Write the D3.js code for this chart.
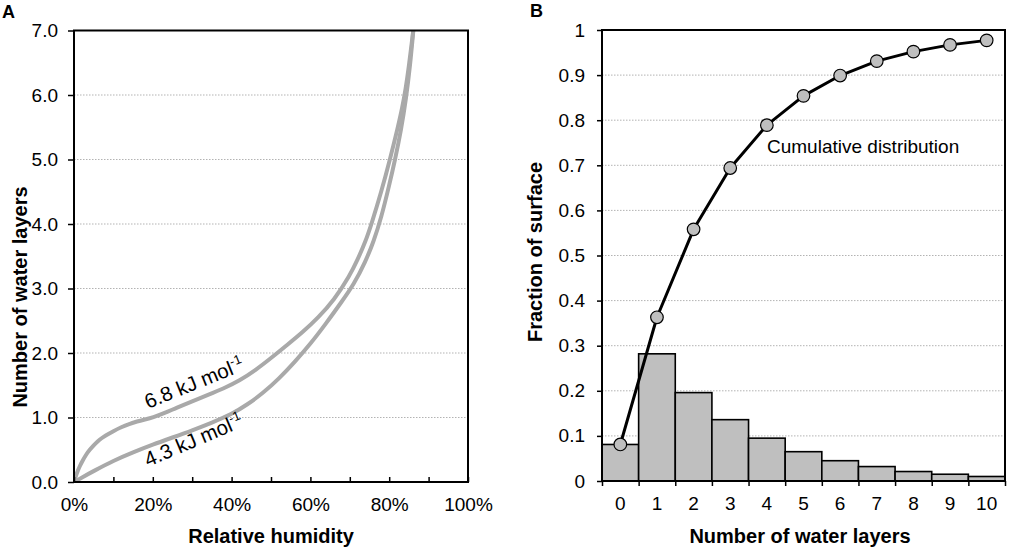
<!DOCTYPE html>
<html>
<head>
<meta charset="utf-8">
<script src="https://cdn.jsdelivr.net/npm/d3@7"></script>
<style>
body { margin: 0; background: #fff; }
svg { display: block; font-family: "Liberation Sans", Arial, sans-serif; }
.tick text { font-size: 19px; fill: #000; }
.tick line { stroke: #000; stroke-width: 1.5; }
.grid line { stroke: #b3b3b3; stroke-width: 1; stroke-dasharray: 1.5,1.5; }
.title { font-size: 20px; font-weight: bold; }
</style>
</head>
<body>
<svg id="chart" width="1010" height="551"></svg>
<script>
// panel A: isotherms (relative humidity in %, number of water layers)
var humidityHigh = [0, 0.5, 1, 1.5, 2, 3, 4, 5, 6, 7, 8, 10, 12, 14, 16, 18, 20, 23, 26, 30, 34, 38, 42, 46, 50, 54, 58, 62, 66, 70, 72, 74, 75.5, 78, 80.2, 82.2, 83.3, 84.2, 85, 85.6, 86.2];
var layersHigh = [0, 0.1, 0.18, 0.25, 0.31, 0.42, 0.5, 0.57, 0.63, 0.68, 0.72, 0.79, 0.85, 0.9, 0.94, 0.97, 1.0, 1.07, 1.15, 1.25, 1.35, 1.45, 1.57, 1.73, 1.92, 2.12, 2.32, 2.55, 2.82, 3.2, 3.45, 3.73, 4.0, 4.5, 5.0, 5.5, 5.8, 6.1, 6.45, 6.75, 7.05];
var humidityLow = [0, 2, 5, 10, 15, 20, 25, 30, 35, 40, 44, 48, 52, 56, 60, 64, 68, 71, 74, 76, 78, 80, 81.5, 83, 84.3, 85.3, 86.2];
var layersLow = [0, 0.07, 0.17, 0.33, 0.46, 0.58, 0.69, 0.8, 0.92, 1.05, 1.2, 1.38, 1.6, 1.86, 2.14, 2.46, 2.8, 3.06, 3.42, 3.72, 4.1, 4.6, 5.0, 5.45, 5.95, 6.45, 7.05];
var humidityTicks = [0, 10, 20, 30, 40, 50, 60, 70, 80, 90, 100];
var layerTicks = [0, 1, 2, 3, 4, 5, 6, 7];

// panel B: distribution of water layers
var waterLayers = [0, 1, 2, 3, 4, 5, 6, 7, 8, 9, 10];
var surfaceFraction = [0.081, 0.282, 0.196, 0.136, 0.095, 0.065, 0.045, 0.032, 0.021, 0.015, 0.010];
var cumulativeFraction = [0.081, 0.363, 0.558, 0.694, 0.789, 0.854, 0.899, 0.931, 0.952, 0.967, 0.977];
var fractionTicks = [0, 0.1, 0.2, 0.3, 0.4, 0.5, 0.6, 0.7, 0.8, 0.9, 1];

var svg = d3.select("#chart");

// ---------- A ----------
var a = { left: 74, right: 468, top: 30.5, bottom: 482 };
var xA = d3.scaleLinear().domain([0, 100]).range([a.left, a.right]);
var yA = d3.scaleLinear().domain([0, 7]).range([a.bottom, a.top]);

svg.append("g").attr("class", "grid").selectAll("line").data(layerTicks.slice(1, -1)).enter().append("line")
    .attr("x1", a.left).attr("x2", a.right).attr("y1", yA).attr("y2", yA);

svg.append("clipPath").attr("id", "clipA").append("rect")
    .attr("x", a.left).attr("y", a.top).attr("width", a.right - a.left).attr("height", a.bottom - a.top);

var lineA = d3.line().x(function(d) { return xA(d[0]); }).y(function(d) { return yA(d[1]); }).curve(d3.curveBasis);
[[humidityHigh, layersHigh], [humidityLow, layersLow]].forEach(function(s) {
    svg.append("path").attr("clip-path", "url(#clipA)")
        .attr("d", lineA(d3.zip(s[0], s[1])))
        .attr("fill", "none").attr("stroke", "#a9a9a9").attr("stroke-width", 4);
});

var gyA = svg.append("g").attr("transform", "translate(" + a.left + ",0)")
    .call(d3.axisLeft(yA).tickValues(layerTicks).tickFormat(d3.format(".1f")).tickSize(6).tickPadding(10));
gyA.select(".domain").remove();

var gxA = svg.append("g").attr("transform", "translate(0," + a.bottom + ")")
    .call(d3.axisBottom(xA).tickValues(humidityTicks).tickSize(-5).tickPadding(16)
        .tickFormat(function(d) { return d % 20 === 0 ? d + "%" : ""; }));
gxA.select(".domain").remove();

svg.append("rect").attr("x", a.left).attr("y", a.top).attr("width", a.right - a.left).attr("height", a.bottom - a.top)
    .attr("fill", "none").attr("stroke", "#000").attr("stroke-width", 2);

var lab1 = svg.append("text").attr("transform", "translate(148,409) rotate(-22)").attr("font-size", 20.5);
lab1.append("tspan").text("6.8 kJ mol");
lab1.append("tspan").attr("dy", -8).attr("font-size", 13).text("-1");
var lab2 = svg.append("text").attr("transform", "translate(148,467) rotate(-23)").attr("font-size", 20.5);
lab2.append("tspan").text("4.3 kJ mol");
lab2.append("tspan").attr("dy", -8).attr("font-size", 13).text("-1");

svg.append("text").attr("class", "title").attr("x", (a.left + a.right) / 2).attr("y", 543)
    .attr("text-anchor", "middle").text("Relative humidity");
svg.append("text").attr("class", "title").attr("transform", "translate(27,297) rotate(-90)")
    .attr("text-anchor", "middle").text("Number of water layers");
svg.append("text").attr("x", 2).attr("y", 18).attr("font-size", 18).attr("font-weight", "bold").text("A");

// ---------- B ----------
var b = { left: 602, right: 1005, top: 30, bottom: 481 };
var xB = d3.scaleBand().domain(waterLayers).range([b.left, b.right]).padding(0);
var edgeB = d3.scaleLinear().domain([0, waterLayers.length]).range([b.left, b.right]);
var yB = d3.scaleLinear().domain([0, 1]).range([b.bottom, b.top]);

svg.append("g").attr("class", "grid").selectAll("line").data(fractionTicks.slice(1, -1)).enter().append("line")
    .attr("x1", b.left).attr("x2", b.right).attr("y1", yB).attr("y2", yB);

svg.append("g").selectAll("rect").data(waterLayers).enter().append("rect")
    .attr("x", function(d) { return xB(d); })
    .attr("y", function(d, i) { return yB(surfaceFraction[i]); })
    .attr("width", xB.bandwidth())
    .attr("height", function(d, i) { return yB(0) - yB(surfaceFraction[i]); })
    .attr("fill", "#bfbfbf").attr("stroke", "#000").attr("stroke-width", 1.6);

var gyB = svg.append("g").attr("transform", "translate(" + b.left + ",0)")
    .call(d3.axisLeft(yB).tickValues(fractionTicks).tickSize(5).tickPadding(12)
        .tickFormat(function(d) { return d === 0 || d === 1 ? String(d) : d3.format(".1f")(d); }));
gyB.select(".domain").remove();

var gtB = svg.append("g").attr("transform", "translate(0," + b.bottom + ")")
    .call(d3.axisBottom(edgeB).tickValues(d3.range(waterLayers.length + 1)).tickSize(5).tickFormat(""));
gtB.select(".domain").remove();
var glB = svg.append("g").attr("transform", "translate(0," + b.bottom + ")")
    .call(d3.axisBottom(xB).tickSize(0).tickPadding(15.5));
glB.select(".domain").remove();

svg.append("rect").attr("x", b.left).attr("y", b.top).attr("width", b.right - b.left).attr("height", b.bottom - b.top)
    .attr("fill", "none").attr("stroke", "#000").attr("stroke-width", 2);

var cumPts = waterLayers.map(function(d, i) { return [xB(d) + xB.bandwidth() / 2, yB(cumulativeFraction[i])]; });
svg.append("path").attr("d", d3.line()(cumPts))
    .attr("fill", "none").attr("stroke", "#000").attr("stroke-width", 3).attr("stroke-linejoin", "round");
svg.append("g").selectAll("circle").data(cumPts).enter().append("circle")
    .attr("cx", function(d) { return d[0]; }).attr("cy", function(d) { return d[1]; }).attr("r", 6.3)
    .attr("fill", "#bfbfbf").attr("stroke", "#000").attr("stroke-width", 1.2);

svg.append("text").attr("x", 767).attr("y", 153).attr("font-size", 19).text("Cumulative distribution");

svg.append("text").attr("class", "title").attr("x", 800).attr("y", 543)
    .attr("text-anchor", "middle").text("Number of water layers");
svg.append("text").attr("class", "title").attr("transform", "translate(541.5,252) rotate(-90)")
    .attr("text-anchor", "middle").text("Fraction of surface");
svg.append("text").attr("x", 530).attr("y", 17).attr("font-size", 18).attr("font-weight", "bold").text("B");
</script>
</body>
</html>
